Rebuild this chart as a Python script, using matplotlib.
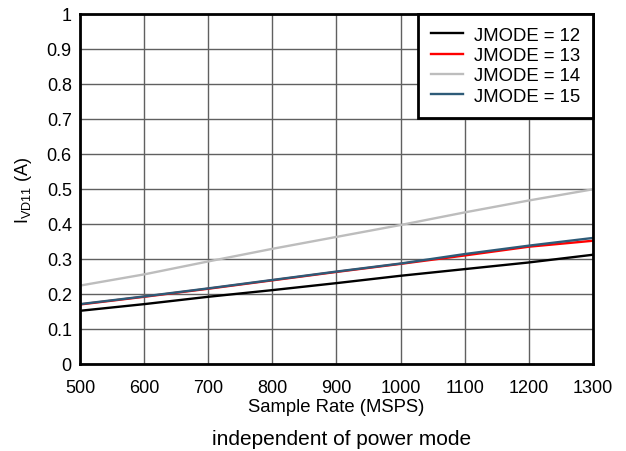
import matplotlib
matplotlib.use("Agg")
import matplotlib.pyplot as plt

plt.rcParams['font.family'] = ['Liberation Sans', 'DejaVu Sans']

rate = [500, 600, 700, 800, 900, 1000, 1100, 1200, 1300]
jmode12 = [0.152, 0.171, 0.192, 0.211, 0.231, 0.252, 0.271, 0.290, 0.312]
jmode13 = [0.170, 0.192, 0.215, 0.239, 0.263, 0.286, 0.310, 0.335, 0.352]
jmode14 = [0.224, 0.256, 0.293, 0.329, 0.363, 0.397, 0.433, 0.467, 0.499]
jmode15 = [0.171, 0.193, 0.216, 0.240, 0.264, 0.287, 0.314, 0.338, 0.360]
labels = ['JMODE = 12', 'JMODE = 13', 'JMODE = 14', 'JMODE = 15']
xticks = [500, 600, 700, 800, 900, 1000, 1100, 1200, 1300]
yticks = [0, 0.1, 0.2, 0.3, 0.4, 0.5, 0.6, 0.7, 0.8, 0.9, 1]
ytick_labels = ['0', '0.1', '0.2', '0.3', '0.4', '0.5', '0.6', '0.7', '0.8', '0.9', '1']

fig = plt.figure(figsize=(6.26, 4.52), dpi=100)
ax = fig.add_axes([0.128, 0.1925, 0.819, 0.7745])

colors = ['#000000', '#ff0000', '#bdbdbd', '#2e5b78']
for y, c, lab in zip([jmode12, jmode13, jmode14, jmode15], colors, labels):
    ax.plot(rate, y, color=c, lw=1.7, label=lab)

ax.set_xlim(500, 1300)
ax.set_ylim(0, 1)
ax.set_xticks(xticks)
ax.set_xticklabels([str(t) for t in xticks])
ax.set_yticks(yticks)
ax.set_yticklabels(ytick_labels)
ax.tick_params(length=0, labelsize=13)
ax.tick_params(axis='x', pad=10.5)
ax.tick_params(axis='y', pad=6)
ax.grid(True, color='#606060', lw=1)
ax.set_axisbelow(True)
for s in ax.spines.values():
    s.set_linewidth(2)
    s.set_color('black')

ax.set_xlabel('Sample Rate (MSPS)', fontsize=13.3, labelpad=2)
ax.set_ylabel(r'I$_{\mathregular{VD11}}$ (A)', fontsize=13, labelpad=9)

leg = ax.legend(loc='upper right', fontsize=13.3, fancybox=False, framealpha=1,
                edgecolor='black', borderaxespad=0, handlelength=1.75,
                labelspacing=0.18, borderpad=0.7, handletextpad=0.55)
leg.get_frame().set_linewidth(2)

fig.text(0.545, 0.006, 'independent of power mode', ha='center', va='bottom', fontsize=15)

fig.savefig('out.png', dpi=100)
